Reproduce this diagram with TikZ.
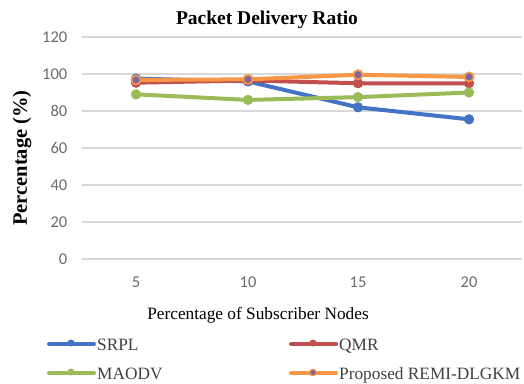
\documentclass[tikz,border=0pt]{standalone}
\usepackage{fontspec}
\setmainfont{Liberation Serif}
\newfontfamily\tickfont{Carlito}
\definecolor{cblue}{HTML}{4472C4}
\definecolor{cred}{HTML}{C0504D}
\definecolor{cgreen}{HTML}{9BBB59}
\definecolor{corange}{HTML}{F79646}
\definecolor{cpurple}{HTML}{8064A2}
\definecolor{cgrid}{HTML}{D9D9D9}
\definecolor{ctick}{HTML}{6A6A6A}
\definecolor{ctext}{HTML}{404040}
\tikzset{
  gridline/.style={cgrid, line width=1.2pt},
  ticklab/.style={font=\tickfont\fontsize{16.5}{18}\selectfont, text=ctick, inner sep=0pt},
  series/.style={line width=4pt, line join=round, line cap=round},
  mk/.style={circle, inner sep=0pt, minimum size=10pt, fill=#1},
  mkp/.style={circle, inner sep=0pt, minimum size=9pt, fill=cpurple, draw=corange, line width=1.6pt},
  legtext/.style={font=\fontsize{17.3}{19}\selectfont, text=ctext, inner sep=0pt, anchor=base west},
}
\begin{document}
\begin{tikzpicture}[x=1pt,y=-1pt]
\useasboundingbox (0,0) rectangle (524,383);
% grid and y ticks
\foreach \v in {0,20,40,60,80,100,120}{
  \draw[gridline] (82,{259-1.85*\v}) -- (522,{259-1.85*\v});
  \node[ticklab, anchor=east] at (67.5,{259-1.85*\v}) {\v};
}
% x ticks
\node[ticklab] (x5) at (136,282) {5};
\node[ticklab] (x10) at (248,282) {10};
\node[ticklab] (x15) at (358,282) {15};
\node[ticklab] (x20) at (469,282) {20};
% titles
\node[font=\bfseries\fontsize{19.5}{21}\selectfont, anchor=base, inner sep=0pt] (title) at (267,24) {Packet Delivery Ratio};
\node[font=\fontsize{17.3}{19}\selectfont, anchor=base, inner sep=0pt, text=black] (xlab) at (258,319) {Percentage of Subscriber Nodes};
\node[font=\bfseries\fontsize{20.5}{22}\selectfont, rotate=90, inner sep=0pt] (ylab) at (22,158) {Percentage (\%)};
% SRPL
\node[mk=cblue] (s1) at (136,{259-1.85*97.5}) {};
\node[mk=cblue] (s2) at (248,{259-1.85*96}) {};
\node[mk=cblue] (s3) at (358,{259-1.85*82}) {};
\node[mk=cblue] (s4) at (469,{259-1.85*75.5}) {};
\draw[series, cblue] (s1.center) -- (s2.center) -- (s3.center) -- (s4.center);
\foreach \n in {s1,s2,s3,s4} \node[mk=cblue] at (\n) {};
% QMR
\node[mk=cred] (q1) at (136,{259-1.85*95.3}) {};
\node[mk=cred] (q2) at (248,{259-1.85*96.5}) {};
\node[mk=cred] (q3) at (358,{259-1.85*95}) {};
\node[mk=cred] (q4) at (469,{259-1.85*95}) {};
\draw[series, cred] (q1.center) -- (q2.center) -- (q3.center) -- (q4.center);
\foreach \n in {q1,q2,q3,q4} \node[mk=cred] at (\n) {};
% MAODV
\node[mk=cgreen] (m1) at (136,{259-1.85*89}) {};
\node[mk=cgreen] (m2) at (248,{259-1.85*86}) {};
\node[mk=cgreen] (m3) at (358,{259-1.85*87.5}) {};
\node[mk=cgreen] (m4) at (469,{259-1.85*90}) {};
\draw[series, cgreen] (m1.center) -- (m2.center) -- (m3.center) -- (m4.center);
\foreach \n in {m1,m2,m3,m4} \node[mk=cgreen] at (\n) {};
% Proposed
\node[mkp] (p1) at (136,{259-1.85*96.8}) {};
\node[mkp] (p2) at (248,{259-1.85*97.1}) {};
\node[mkp] (p3) at (358,{259-1.85*99.6}) {};
\node[mkp] (p4) at (469,{259-1.85*98.4}) {};
\draw[series, corange] (p1.center) -- (p2.center) -- (p3.center) -- (p4.center);
\foreach \n in {p1,p2,p3,p4} \node[mkp] at (\n) {};
% legend
\coordinate (la1) at (49,344); \coordinate (lb1) at (94,344);
\coordinate (la2) at (291,344); \coordinate (lb2) at (336,344);
\coordinate (la3) at (49,373); \coordinate (lb3) at (94,373);
\coordinate (la4) at (291,373); \coordinate (lb4) at (336,373);
\draw[series, line cap=round, cblue] (la1) -- (lb1);
\node[mk=cblue, minimum size=7pt] (lm1) at (71,343) {};
\draw[series, line cap=round, cred] (la2) -- (lb2);
\node[mk=cred, minimum size=7pt] (lm2) at (313,343) {};
\draw[series, line cap=round, cgreen] (la3) -- (lb3);
\node[mk=cgreen, minimum size=7pt] (lm3) at (71,372) {};
\draw[series, line cap=round, corange] (la4) -- (lb4);
\node[mkp, minimum size=6.5pt, line width=1pt] (lm4) at (313,372.5) {};
\node[legtext] (t1) at (97,350) {SRPL};
\node[legtext] (t2) at (339,350) {QMR};
\node[legtext] (t3) at (97,379.5) {MAODV};
\node[legtext] (t4) at (339,379.5) {Proposed REMI-DLGKM};
\end{tikzpicture}
\end{document}
